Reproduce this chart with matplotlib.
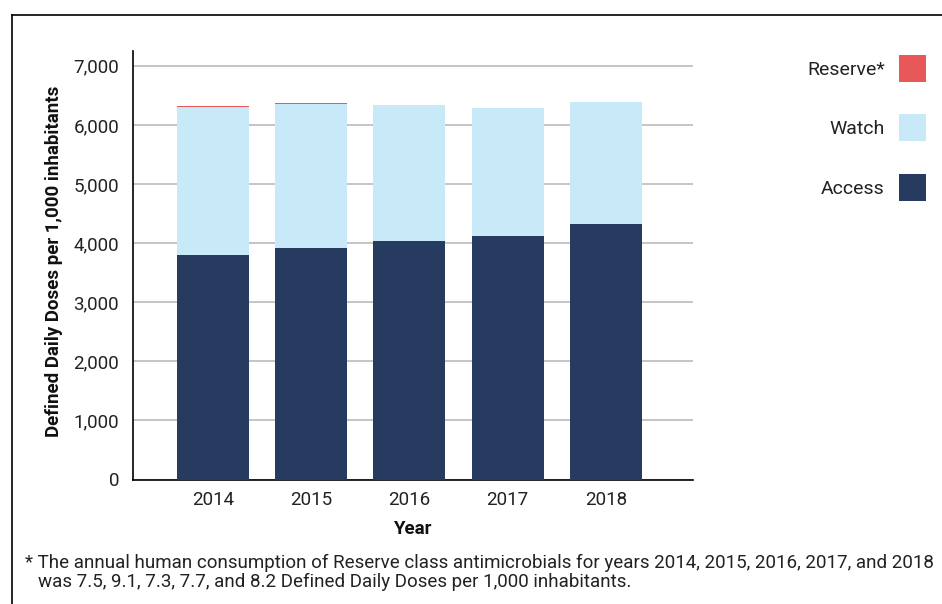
import matplotlib
matplotlib.use("Agg")
import matplotlib.pyplot as plt
from matplotlib.lines import Line2D
import numpy as np

plt.rcParams['font.family'] = ['Roboto', 'DejaVu Sans']

years = ["2014", "2015", "2016", "2017", "2018"]
access = [3800, 3920, 4040, 4120, 4320]
watch = [2510, 2440, 2290, 2160, 2060]
reserve = [7.5, 9.1, 7.3, 7.7, 8.2]
yticks = [0, 1000, 2000, 3000, 4000, 5000, 6000, 7000]

c_access = "#273A5F"
c_watch = "#C7E9F8"
c_reserve = "#E85858"

W, H = 942, 604
fig = plt.figure(figsize=(W / 100, H / 100), dpi=100)
ax = fig.add_axes([133 / W, 1 - 479.5 / H, 560 / W, 428.5 / H])

x = np.arange(len(years))
bw = 0.733
b_access = ax.bar(x, access, bw, color=c_access, zorder=3, label="Access")
b_watch = ax.bar(x, watch, bw, bottom=access, color=c_watch, zorder=3, label="Watch")
bottom2 = [a + w for a, w in zip(access, watch)]
b_res = ax.bar(x, reserve, bw, bottom=bottom2, color=c_reserve, zorder=3, label="Reserve*")

ax.set_xlim(-0.815, 4.888)
ax.set_ylim(0, 7250)
ax.set_yticks(yticks)
ax.set_yticklabels([f"{v:,}" for v in yticks])
ax.set_xticks(x)
ax.set_xticklabels(years)
ax.tick_params(axis='both', length=0, labelsize=13.5, colors="#222222")
ax.tick_params(axis='y', pad=10)
ax.tick_params(axis='x', pad=8)
ax.yaxis.grid(True, color="#b5b5b5", linewidth=1.1, zorder=0)
ax.set_axisbelow(True)
for s in ["top", "right"]:
    ax.spines[s].set_visible(False)
for s in ["left", "bottom"]:
    ax.spines[s].set_color("black")
    ax.spines[s].set_linewidth(1.2)

ax.set_ylabel("Defined Daily Doses per 1,000 inhabitants", fontsize=13.5, fontweight="bold", color="#111111")
ax.yaxis.set_label_coords(-0.125, 0.51)
ax.set_xlabel("Year", fontsize=13.5, fontweight="bold", color="#111111")
ax.xaxis.set_label_coords(0.498, -0.095)

leg = fig.legend(handles=[b_res, b_watch, b_access], labels=["Reserve*", "Watch", "Access"],
                 loc="upper right", bbox_to_anchor=(926 / W, 1 - 55 / H),
                 markerfirst=False, frameon=False, fontsize=14,
                 handlelength=1.39, handleheight=1.76, labelspacing=1.67,
                 handletextpad=0.72, borderpad=0, borderaxespad=0)
for t in leg.get_texts():
    t.set_color("#222222")

# frame lines
fig.add_artist(Line2D([12 / W, 1], [1 - 15 / H, 1 - 15 / H], color="black", linewidth=1.2))
fig.add_artist(Line2D([12 / W, 12 / W], [0, 1 - 15 / H], color="black", linewidth=1.2))

fig.text(25 / W, 1 - 563 / H,
         "* The annual human consumption of Reserve class antimicrobials for years 2014, 2015, 2016, 2017, and 2018",
         fontsize=13.5, va="center", ha="left", color="#222222")
fig.text(38 / W, 1 - 582 / H,
         "was 7.5, 9.1, 7.3, 7.7, and 8.2 Defined Daily Doses per 1,000 inhabitants.",
         fontsize=13.5, va="center", ha="left", color="#222222")

fig.savefig("out.png", dpi=100)
